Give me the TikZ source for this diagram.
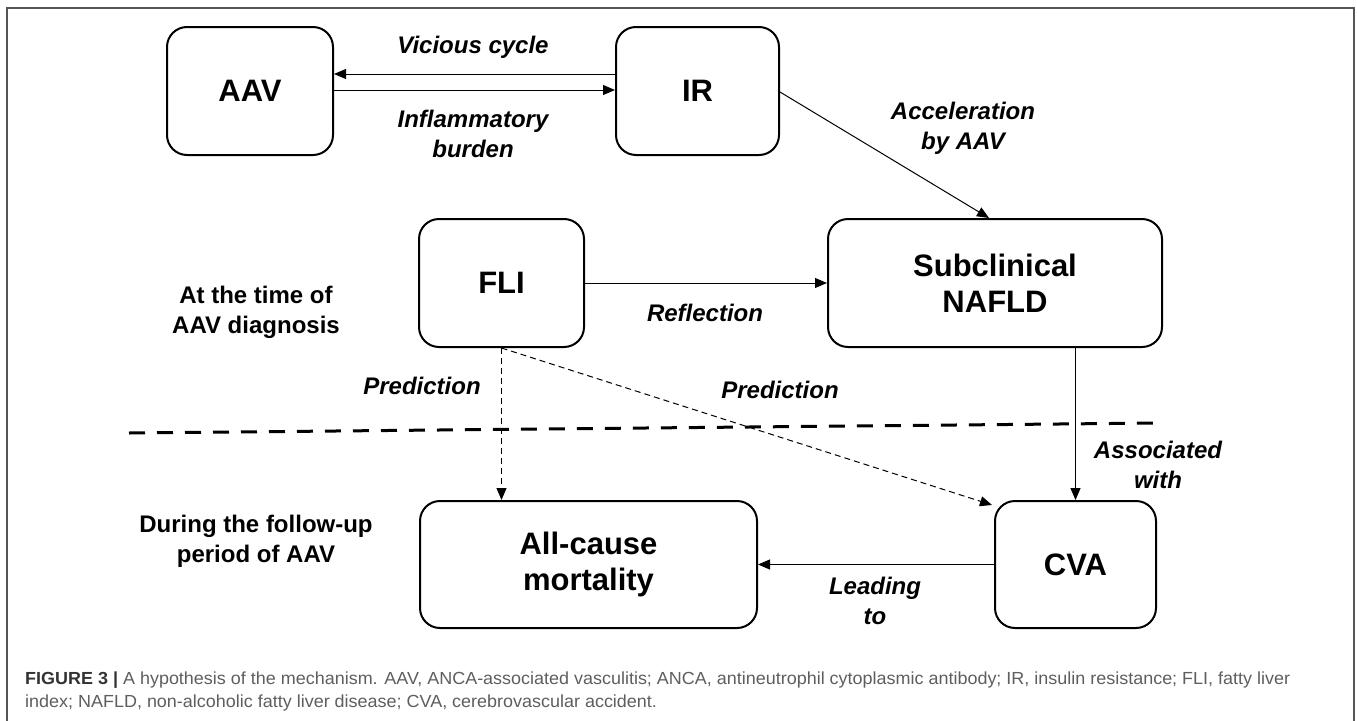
\documentclass[tikz,border=0pt]{standalone}
\usepackage{fontspec}
\setmainfont{Liberation Sans}
\usetikzlibrary{arrows.meta,calc}
\definecolor{capdark}{HTML}{333333}
\definecolor{capgray}{HTML}{5E5E5E}
\definecolor{framegray}{HTML}{555555}
\newsavebox\capboxone
\newsavebox\capboxtwo
\newlength\capwdone
\begin{document}
\sbox\capboxone{\fontsize{17.5}{24}\selectfont{\color{capdark}\bfseries FIGURE 3 |} \color{capgray}A hypothesis of the mechanism. AAV, ANCA-associated vasculitis; ANCA, antineutrophil cytoplasmic antibody; IR, insulin resistance; FLI, fatty liver}%
\sbox\capboxtwo{\fontsize{17.5}{24}\selectfont\color{capgray}index; NAFLD, non-alcoholic fatty liver disease; CVA, cerebrovascular accident.}%
\setlength\capwdone{\wd\capboxone}%
\pgfmathsetmacro\capsx{1265/\capwdone}%
\begin{tikzpicture}[x=1pt,y=-1pt,
  box/.style={draw, line width=2pt, rounded corners=20pt, align=center,
    font=\bfseries\fontsize{31}{36}\selectfont, inner sep=0pt},
  lbl/.style={align=center, inner sep=0pt, font=\bfseries\itshape\fontsize{24}{30}\selectfont},
  side/.style={align=center, inner sep=0pt, font=\bfseries\fontsize{24}{30}\selectfont},
  arr/.style={line width=1pt, -{Triangle[length=12pt,width=10pt]}},
  darr/.style={arr, dash pattern=on 6pt off 4pt},
  sep/.style={line width=3pt, dash pattern=on 16pt off 12pt},
  capstyle/.style={inner sep=0pt, anchor=base west},
]
\useasboundingbox (0,0) rectangle (1357,720);
% frame
\draw[framegray, line width=1.5pt] (7,730) -- (7,8) -- (1354,8) -- (1354,730);

% boxes
\node[box, minimum width=166pt, minimum height=128pt] (aav) at (250,91) {AAV};
\node[box, minimum width=163pt, minimum height=128pt] (ir) at (697.5,91) {IR};
\node[box, minimum width=165pt, minimum height=128pt] (fli) at (501.5,283) {FLI};
\node[box, minimum width=334pt, minimum height=128pt] (sub) at (995,283) {Subclinical\\NAFLD};
\node[box, minimum width=337pt, minimum height=127pt] (all) at (588.5,564.5) {All-cause\\mortality};
\node[box, minimum width=161pt, minimum height=127pt] (cva) at (1075.5,564.5) {CVA};

% side labels
\node[side] (t1) at (256,312) {At the time of\\AAV diagnosis};
\node[side] (t2) at (256,541) {During the follow-up\\period of AAV};

% separator
\coordinate (sepL) at (129,433);
\coordinate (sepR) at (1162,423);
\draw[sep] (sepL) -- (sepR);

% connectors
\draw[arr] ([yshift=17pt]ir.west) -- ([yshift=17pt]aav.east);
\draw[arr] ([yshift=1pt]aav.east) -- ([yshift=1pt]ir.west);
\draw[arr] ([yshift=-1pt]ir.east) -- ([xshift=-6pt]sub.north);
\draw[arr] (fli.east) -- (sub.west);
\draw[arr] (sub.south -| cva.north) -- (cva.north);
\draw[arr] (cva.west) -- (all.east);
\draw[darr] (fli.south) -- (fli.south |- all.north);
\draw[darr] (fli.south) -- ([xshift=-2pt,yshift=-5pt]cva.north west);

% edge labels
\node[lbl] (l1) at (473,47) {Vicious cycle};
\node[lbl] (l2) at (473,134) {Inflammatory\\burden};
\node[lbl] (l3) at (963,128) {Acceleration\\by AAV};
\node[lbl] (l4) at (705,313) {Reflection};
\node[lbl] (l5) at (422,386) {Prediction};
\node[lbl] (l6) at (780,390) {Prediction};
\node[lbl] (l7) at (1158,465) {Associated\\with};
\node[lbl] (l8) at (875,601) {Leading\\to};

% caption
\node[capstyle] (cap1) at (25,684) {\scalebox{\capsx}[1]{\usebox\capboxone}};
\node[capstyle] (cap2) at (25,707) {\scalebox{\capsx}[1]{\usebox\capboxtwo}};
\end{tikzpicture}
\end{document}
